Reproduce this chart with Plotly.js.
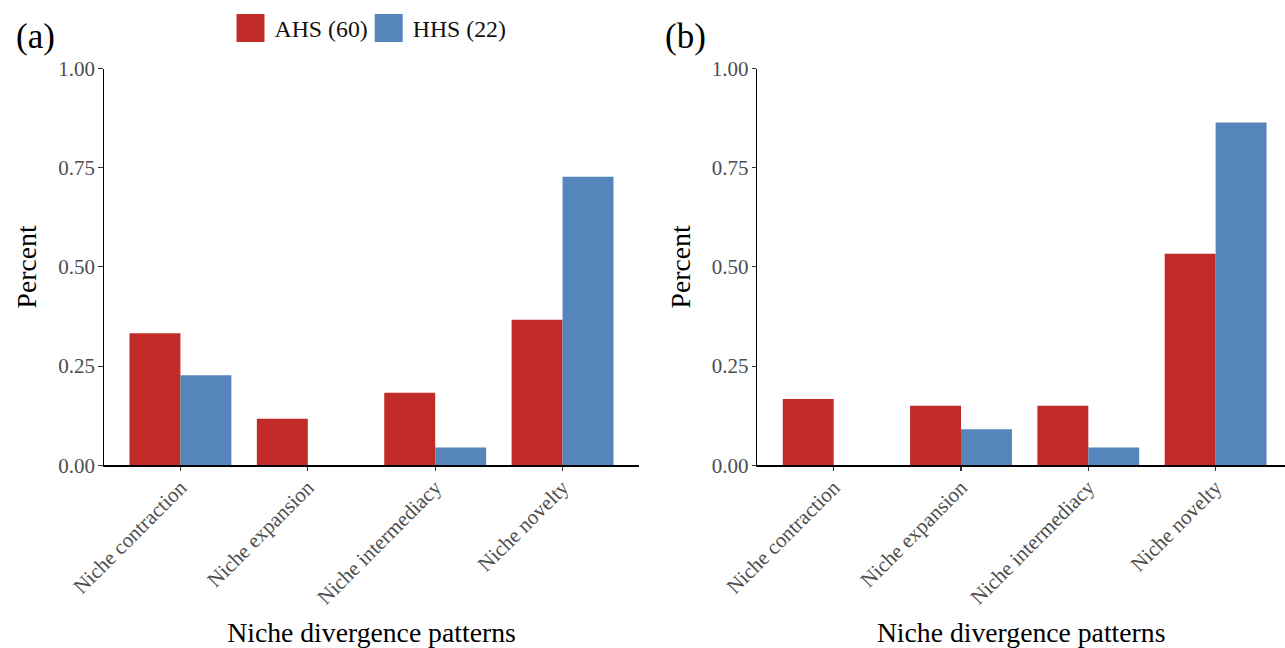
<!DOCTYPE html>
<html>
<head>
<meta charset="utf-8">
<script src="https://cdn.plot.ly/plotly-3.0.1.min.js"></script>
<style>
  html, body { margin: 0; padding: 0; background: #ffffff; }
  #chart { width: 1285px; height: 648px; }
</style>
</head>
<body>
<div id="chart"></div>
<script>
// ---- data ----
const categories = ["Niche contraction", "Niche expansion", "Niche intermediacy", "Niche novelty"];
const seriesNames = ["AHS (60)", "HHS (22)"];
const panelA_AHS = [0.333, 0.117, 0.183, 0.367];
const panelA_HHS = [0.227, 0.000, 0.045, 0.727];
const panelB_AHS = [0.167, 0.150, 0.150, 0.533];
const panelB_HHS = [0.000, 0.091, 0.045, 0.864];
const yTickVals = [0, 0.25, 0.5, 0.75, 1];
const yTickText = ["0.00", "0.25", "0.50", "0.75", "1.00"];
const panelLabels = ["(a)", "(b)"];
const xTitle = "Niche divergence patterns";
const yTitle = "Percent";

// ---- style ----
const RED = "#C02B27";
const BLUE = "#5585BA";
const SERIF = "Liberation Serif, Times New Roman, serif";
const W = 1285, H = 648;

function bar(y, name, color, xa, ya, show) {
  return {
    type: "bar", x: categories, y: y, name: name,
    marker: { color: color, line: { width: 0 } },
    xaxis: xa, yaxis: ya, legendgroup: name, showlegend: show,
    hoverinfo: "x+y"
  };
}

const traces = [
  bar(panelA_AHS, seriesNames[0], RED, "x", "y", true),
  bar(panelA_HHS, seriesNames[1], BLUE, "x", "y", true),
  bar(panelB_AHS, seriesNames[0], RED, "x2", "y2", false),
  bar(panelB_HHS, seriesNames[1], BLUE, "x2", "y2", false)
];

const yTop = 1 - 68.5 / H, yBot = 1 - 465.3 / H;

function xAxis(domain, range, anchor) {
  return {
    domain: domain, anchor: anchor, type: "category",
    range: range, showgrid: false, zeroline: false,
    showline: true, linecolor: "#000000", linewidth: 1.2,
    ticks: "outside", ticklen: 4.5, tickwidth: 1.1, tickcolor: "#333333",
    tickangle: -45, ticklabelstandoff: -4,
    tickfont: { family: SERIF, size: 21, color: "#4D4D4D" },
    title: { text: xTitle, font: { family: SERIF, size: 27.7, color: "#000000" }, standoff: 20 }
  };
}
function yAxis(anchor) {
  return {
    domain: [yBot, yTop], anchor: anchor, range: [0, 1],
    tickvals: yTickVals, ticktext: yTickText,
    showgrid: false, zeroline: false,
    showline: true, linecolor: "#000000", linewidth: 1.2,
    ticks: "outside", ticklen: 4.5, tickwidth: 1.1, tickcolor: "#333333",
    ticklabelstandoff: -1,
    tickfont: { family: SERIF, size: 21, color: "#4D4D4D" },
    title: { text: yTitle, font: { family: SERIF, size: 27.7, color: "#000000" }, standoff: 13 }
  };
}

const layout = {
  width: W, height: H,
  margin: { l: 0, r: 0, t: 0, b: 0, pad: 0 },
  paper_bgcolor: "#ffffff", plot_bgcolor: "#ffffff",
  barmode: "group", bargap: 0.2, bargroupgap: 0,
  font: { family: SERIF },
  xaxis: xAxis([104 / W, 639 / W], [-0.6, 3.6], "y"),
  yaxis: yAxis("x"),
  xaxis2: xAxis([757.3 / W, 1], [-0.6, 3.545], "y2"),
  yaxis2: yAxis("x2"),
  showlegend: true,
  legend: {
    orientation: "h", x: 373 / W, xanchor: "center", y: 1 - 28 / H, yanchor: "middle",
    font: { family: SERIF, size: 23.8, color: "#111111" },
    bgcolor: "rgba(0,0,0,0)", borderwidth: 0, itemwidth: 30, traceorder: "normal"
  },
  annotations: [
    { text: panelLabels[0], xref: "paper", yref: "paper", x: 14 / W, y: 1 - 36 / H,
      xanchor: "left", yanchor: "middle", showarrow: false,
      font: { family: SERIF, size: 35, color: "#000000" } },
    { text: panelLabels[1], xref: "paper", yref: "paper", x: 663 / W, y: 1 - 36 / H,
      xanchor: "left", yanchor: "middle", showarrow: false,
      font: { family: SERIF, size: 35, color: "#000000" } }
  ]
};

Plotly.newPlot("chart", traces, layout, { displayModeBar: false, staticPlot: true }).then(function (gd) {
  gd.querySelectorAll(".legend .legendpoints path").forEach(function (p) {
    const t = p.getAttribute("transform") || "";
    p.setAttribute("transform", t + " translate(-4,0) scale(2.33)");
  });
});
</script>
</body>
</html>
